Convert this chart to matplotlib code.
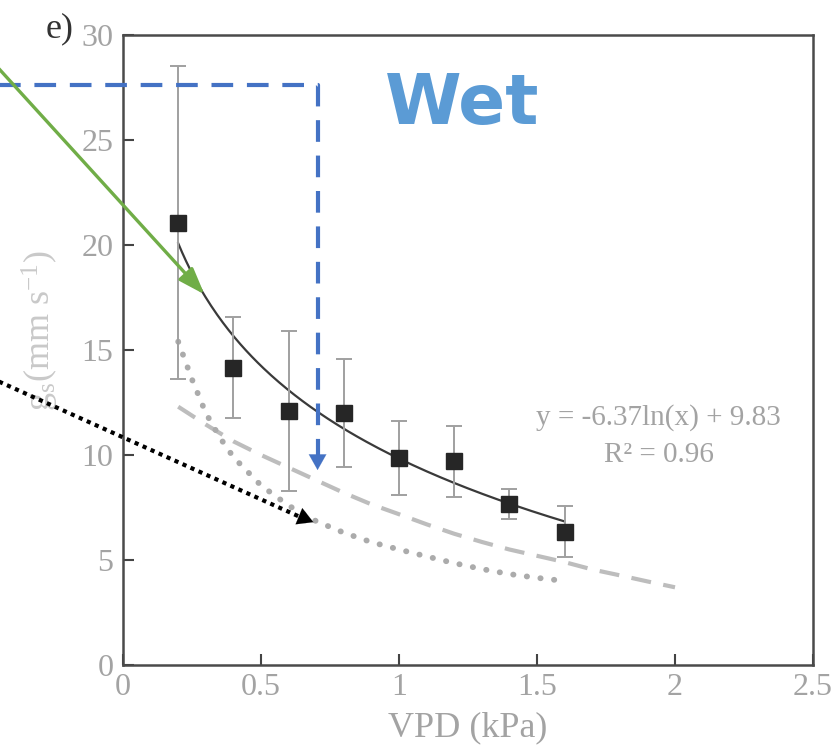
import numpy as np
import matplotlib
matplotlib.use("Agg")
import matplotlib.pyplot as plt

# measured points (mean +/- error)
vpd = [0.2, 0.4, 0.6, 0.8, 1.0, 1.2, 1.4, 1.6]
gs_mean = [21.05, 14.15, 12.1, 12.0, 9.85, 9.7, 7.67, 6.35]
gs_err = [7.45, 2.4, 3.8, 2.55, 1.75, 1.7, 0.72, 1.2]

# fitted curve from the equation shown on the chart
fit_a = -6.37
fit_b = 9.83
fit_xmin, fit_xmax = 0.2, 1.6

# grey dashed curve
dash_x = [0.2, 0.3, 0.4, 0.5, 0.6, 0.7, 0.8, 0.9, 1.0, 1.1,
          1.2, 1.3, 1.4, 1.5, 1.6, 1.7, 1.8, 1.9, 2.0]
dash_y = [12.3, 11.45, 10.65, 10.0, 9.4, 8.8, 8.2, 7.65, 7.18, 6.7,
          6.25, 5.86, 5.5, 5.2, 4.9, 4.55, 4.27, 3.98, 3.7]

# grey dotted curve
dot_x = [0.2, 0.25, 0.3, 0.35, 0.4, 0.5, 0.6, 0.7, 0.8, 0.9,
         1.0, 1.1, 1.2, 1.3, 1.4, 1.5, 1.6]
dot_y = [15.4, 13.6, 12.0, 10.85, 9.9, 8.55, 7.59, 6.85, 6.3, 5.85,
         5.5, 5.17, 4.85, 4.57, 4.33, 4.15, 4.0]

xticks = [0, 0.5, 1, 1.5, 2, 2.5]
xticklabels = ["0", "0.5", "1", "1.5", "2", "2.5"]
yticks = [0, 5, 10, 15, 20, 25, 30]

plt.rcParams['font.family'] = ['Liberation Serif', 'DejaVu Serif']
plt.rcParams['mathtext.fontset'] = 'custom'
plt.rcParams['mathtext.rm'] = 'Liberation Serif'
plt.rcParams['mathtext.it'] = 'Liberation Serif:italic'

grey_txt = '#a3a3a3'

fig = plt.figure(figsize=(8.33, 7.51), dpi=100)
ax = fig.add_axes([123 / 833, 86 / 751, 690 / 833, 630 / 751])

ax.plot(dash_x, dash_y, color='#bdbdbd', lw=3, dashes=(4.8, 3.0), zorder=2)
ax.plot(dot_x, dot_y, color='#ababab', lw=4.2, dashes=(0.05, 2.3),
        dash_capstyle='round', zorder=2)

xf = np.linspace(fit_xmin, fit_xmax, 200)
ax.plot(xf, fit_a * np.log(xf) + fit_b, color='#3a3a3a', lw=1.6, zorder=3)

ax.errorbar(vpd, gs_mean, yerr=gs_err, fmt='s', color='#262626', ms=11.5,
            ecolor='#a0a0a0', elinewidth=1.4, capsize=5.5, capthick=1.4, zorder=4)

ax.set_xlim(0, 2.5)
ax.set_ylim(0, 30)
ax.set_xticks(xticks)
ax.set_xticklabels(xticklabels)
ax.set_yticks(yticks)
ax.tick_params(direction='in', length=8, width=1.5, color='#444444',
               labelsize=23, labelcolor=grey_txt)
ax.tick_params(axis='x', pad=6)
ax.tick_params(axis='y', pad=7)
for s in ax.spines.values():
    s.set_color('#4a4a4a')
    s.set_linewidth(1.8)

ax.set_xlabel("VPD (kPa)", fontsize=26, color=grey_txt, va='center')
ax.xaxis.set_label_coords(0.5, -0.1)
ax.set_ylabel("g$_\\mathrm{s}$(mm s$^{-1}$)", fontsize=26, color='#c9c9c9',
              va='center', ha='center')
ax.yaxis.set_label_coords(-0.12, 0.53)

ax.text(1.94, 11.8, "y = -6.37ln(x) + 9.83", fontsize=21, color=grey_txt,
        ha='center', va='center')
ax.text(1.94, 10.0, "R² = 0.96", fontsize=21, color=grey_txt,
        ha='center', va='center')

fig.text(60 / 833, 1 - 29 / 751, "e)", fontsize=26, color='#333333',
         ha='center', va='center')

# annotations
ax.text(1.23, 26.7, "Wet", fontsize=50, color='#5b9bd5', fontweight='bold',
        family=['DejaVu Sans'], ha='center', va='center')

blue = '#4472c4'
ax.plot([-0.45, 0.705, 0.705], [27.6, 27.6, 10.0], color=blue, lw=3,
        dashes=(5.2, 3.3), clip_on=False, zorder=5)
ax.annotate('', xy=(0.705, 9.15), xytext=(0.705, 9.9), annotation_clip=False,
            arrowprops=dict(arrowstyle='-|>,head_length=0.8,head_width=0.45',
                            color=blue, lw=0.1, mutation_scale=14))

ax.annotate('', xy=(0.295, 17.65), xytext=(-0.45, 28.4), annotation_clip=False,
            arrowprops=dict(arrowstyle='-|>,head_length=0.9,head_width=0.32',
                            color='#70ad47', lw=2.4, mutation_scale=18,
                            shrinkA=0, shrinkB=0), zorder=5)

ax.plot([-0.45, 0.65], [13.5, 7.0], color='black', lw=3, dashes=(1, 1.1),
        clip_on=False, zorder=5)
ax.annotate('', xy=(0.69, 6.8), xytext=(0.62, 7.18), annotation_clip=False,
            arrowprops=dict(arrowstyle='-|>,head_length=0.8,head_width=0.45',
                            color='black', lw=0.1, mutation_scale=14,
                            shrinkA=0, shrinkB=0), zorder=5)

fig.savefig("out.png", dpi=100)
